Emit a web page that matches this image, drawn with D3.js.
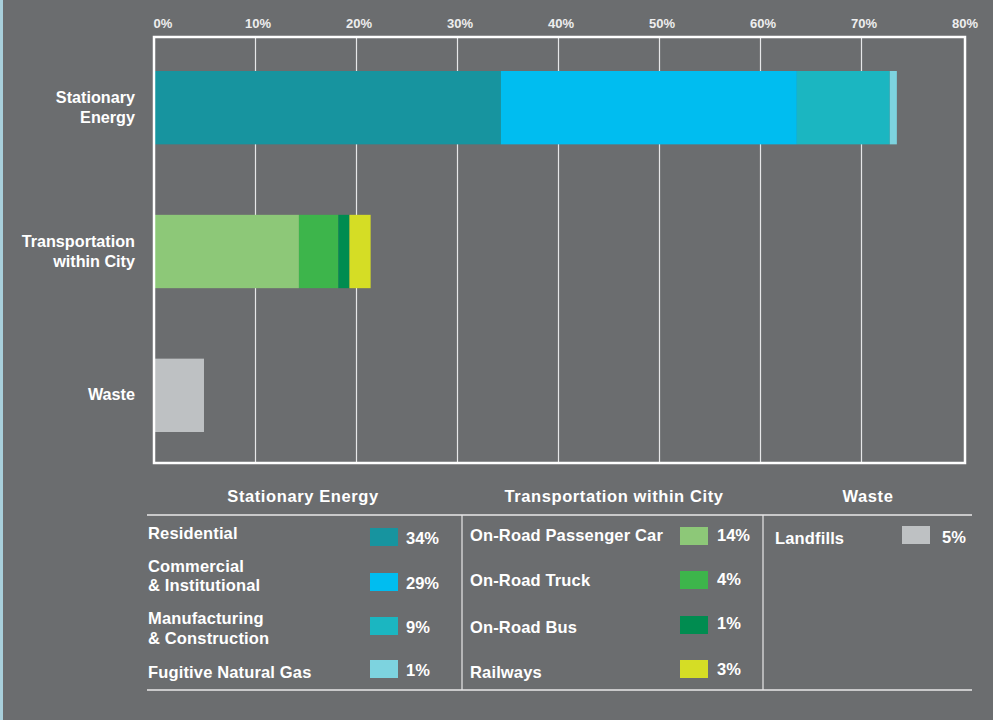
<!DOCTYPE html>
<html>
<head>
<meta charset="utf-8">
<script src="https://cdn.jsdelivr.net/npm/d3@7"></script>
<style>
html,body{margin:0;padding:0;background:#6b6d6f;}
svg{display:block;}
text{font-family:"Liberation Sans",Arial,Helvetica,sans-serif;font-weight:bold;}
</style>
</head>
<body>
<svg id="chart" width="993" height="720"></svg>
<script>
// ---- data ----
const categories = ["Stationary Energy", "Transportation within City", "Waste"];
const categoryLines = [["Stationary", "Energy"], ["Transportation", "within City"], ["Waste"]];
const stationaryNames = ["Residential", "Commercial\n& Institutional", "Manufacturing\n& Construction", "Fugitive Natural Gas"];
const stationaryValues = [34.3, 29.3, 9.2, 0.7];
const stationaryLabels = ["34%", "29%", "9%", "1%"];
const stationaryColors = ["#17949f", "#00bdf0", "#1bb6c1", "#7dd3df"];
const transportNames = ["On-Road Passenger Car", "On-Road Truck", "On-Road Bus", "Railways"];
const transportValues = [14.3, 3.9, 1.1, 2.1];
const transportLabels = ["14%", "4%", "1%", "3%"];
const transportColors = ["#8dc878", "#3db54b", "#008c50", "#d5dd25"];
const wasteNames = ["Landfills"];
const wasteValues = [4.9];
const wasteLabels = ["5%"];
const wasteColors = ["#bec1c3"];
const tickValues = [0, 10, 20, 30, 40, 50, 60, 70, 80];

const groups = [
  {names: stationaryNames, values: stationaryValues, labels: stationaryLabels, colors: stationaryColors},
  {names: transportNames, values: transportValues, labels: transportLabels, colors: transportColors},
  {names: wasteNames, values: wasteValues, labels: wasteLabels, colors: wasteColors}
];

const svg = d3.select("#chart");
const W = 993, H = 720;
svg.append("rect").attr("width", W).attr("height", H).attr("fill", "#6b6d6f");
svg.append("rect").attr("x", 0).attr("y", 0).attr("width", 3).attr("height", H).attr("fill", "#a8cfdb");

const frame = {left: 154, top: 37, right: 965, bottom: 463};
const x = d3.scaleLinear().domain([0, 80]).range([154.5, 962.5]);
const y = d3.scaleBand().domain(categories).range([frame.top + 1.5, frame.bottom + 1.5]).paddingInner(0.49).paddingOuter(0.226);

// gridlines
svg.append("g").selectAll("line").data(tickValues.slice(1, -1)).join("line")
  .attr("x1", d => x(d)).attr("x2", d => x(d))
  .attr("y1", frame.top).attr("y2", frame.bottom)
  .attr("stroke", "#e6e7e8").attr("stroke-width", 1.2);

// axis labels (top)
const axis = d3.axisTop(x).tickValues(tickValues).tickFormat(d => d + "%").tickSize(0).tickPadding(0);
const ax = svg.append("g").attr("transform", `translate(0,${frame.top - 9})`).call(axis);
ax.select(".domain").remove();
ax.selectAll("text").attr("fill", "#eeeeee").attr("font-size", 13)
  .attr("font-family", '"Liberation Sans",Arial,sans-serif').attr("font-weight", "bold")
  .attr("dx", (d, i) => i === 0 ? 8 : 2);

// bars
groups.forEach((g, gi) => {
  let acc = 0;
  const segs = g.values.map((v, i) => { const s = {x0: acc, x1: acc + v, color: g.colors[i]}; acc += v; return s; });
  svg.append("g").selectAll("rect").data(segs).join("rect")
    .attr("x", d => x(d.x0)).attr("width", d => x(d.x1) - x(d.x0))
    .attr("y", y(categories[gi])).attr("height", y.bandwidth())
    .attr("fill", d => d.color);
});

// frame
svg.append("rect").attr("x", frame.left).attr("y", frame.top)
  .attr("width", frame.right - frame.left).attr("height", frame.bottom - frame.top)
  .attr("fill", "none").attr("stroke", "#ffffff").attr("stroke-width", 2.5);

// category labels
categories.forEach((c, i) => {
  const lines = categoryLines[i];
  const cy = y(c) + y.bandwidth() / 2;
  const t = svg.append("text").attr("text-anchor", "end").attr("fill", "#ffffff").attr("font-size", 16.2);
  lines.forEach((l, j) => {
    t.append("tspan").attr("x", 135).attr("y", cy + (j - (lines.length - 1) / 2) * 20 + 5).text(l);
  });
});

// legend table
const lg = svg.append("g");
const cols = [
  {x0: 147, x1: 462, textX: 148, swX: 370, pctX: 406},
  {x0: 462, x1: 763, textX: 470, swX: 680, pctX: 717},
  {x0: 763, x1: 972, textX: 775, swX: 902, pctX: 942}
];
const headerY = 502;
const headerCx = [303, 614, 868];
cols.forEach((c, i) => {
  lg.append("text").attr("x", headerCx[i]).attr("y", headerY)
    .attr("text-anchor", "middle").attr("fill", "#ffffff").attr("font-size", 16.5)
    .attr("letter-spacing", 0.6).text(categories[i]);
});
lg.append("line").attr("x1", 147).attr("x2", 972).attr("y1", 515).attr("y2", 515).attr("stroke", "#e8e8e8").attr("stroke-width", 1.5);
lg.append("line").attr("x1", 147).attr("x2", 972).attr("y1", 690).attr("y2", 690).attr("stroke", "#e8e8e8").attr("stroke-width", 1.5);
[462, 763].forEach(vx => lg.append("line").attr("x1", vx).attr("x2", vx).attr("y1", 515).attr("y2", 690).attr("stroke", "#e8e8e8").attr("stroke-width", 1.2));

// row geometry per column: text baseline(s), swatch top, pct baseline
const rowTextY = [[539], [572, 591], [624, 644], [678]];
const rowSwY = [528, 573, 617, 660];
const rowPctY = [544, 589, 633, 676];
const tRowTextY = [541, 586, 633, 678];
const tRowSwY = [527, 571, 616, 660];
const tRowPctY = [541, 585, 629, 675];

groups.forEach((g, gi) => {
  const c = cols[gi];
  g.names.forEach((n, i) => {
    const lines = n.split("\n");
    let ty, sy, py;
    if (gi === 0) { ty = rowTextY[i]; sy = rowSwY[i]; py = rowPctY[i]; }
    else if (gi === 1) { ty = [tRowTextY[i]]; sy = tRowSwY[i]; py = tRowPctY[i]; }
    else { ty = [544]; sy = 526; py = 543; }
    const t = lg.append("text").attr("fill", "#ffffff").attr("font-size", 16.5).attr("letter-spacing", 0.15);
    lines.forEach((l, j) => t.append("tspan").attr("x", c.textX).attr("y", ty[j]).text(l));
    lg.append("rect").attr("x", c.swX).attr("y", sy).attr("width", 28).attr("height", 18).attr("fill", g.colors[i]);
    lg.append("text").attr("x", c.pctX).attr("y", py).attr("fill", "#ffffff").attr("font-size", 16.5).text(g.labels[i]);
  });
});
</script>
</body>
</html>
